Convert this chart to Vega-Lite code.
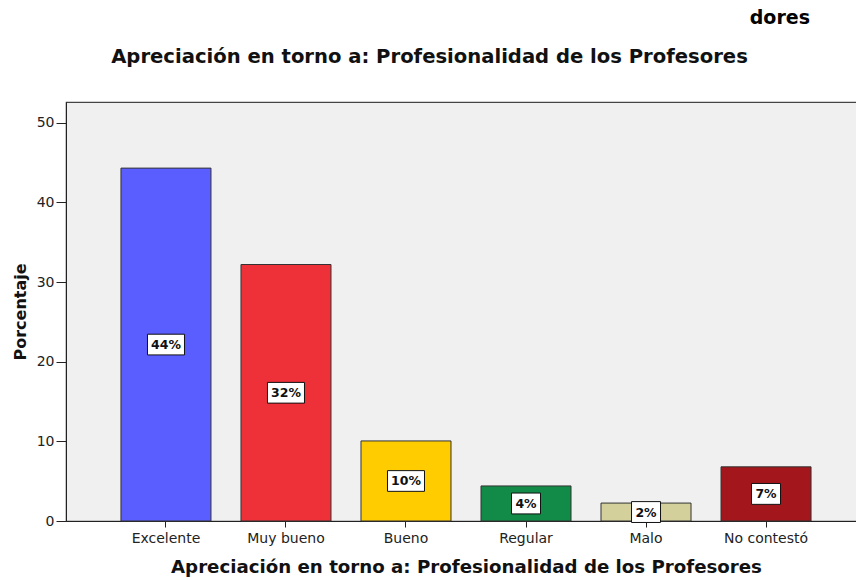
{
  "$schema": "https://vega.github.io/schema/vega-lite/v6.json",
  "width": 800,
  "height": 419,
  "autosize": {"type": "none"},
  "padding": {"left": 66, "top": 102, "right": 0, "bottom": 59},
  "background": "white",
  "title": {
    "text": "dores",
    "anchor": "end",
    "frame": "group",
    "dx": -56,
    "offset": 18,
    "font": "DejaVu Sans",
    "fontSize": 19,
    "fontWeight": "bold",
    "color": "#000000"
  },
  "config": {
    "view": {"fill": "#F0F0F0", "stroke": "#444444", "strokeWidth": 1.2},
    "axis": {
      "labelFont": "DejaVu Sans",
      "labelFontSize": 14,
      "labelColor": "#222222",
      "titleFont": "DejaVu Sans",
      "titleFontWeight": "bold",
      "titleColor": "#111111",
      "tickColor": "#222222",
      "domainColor": "#222222",
      "grid": false
    }
  },
  "data": {
    "values": [
      {"cat": "Excelente", "pct": 44.3, "label": "44%"},
      {"cat": "Muy bueno", "pct": 32.2, "label": "32%"},
      {"cat": "Bueno", "pct": 10.05, "label": "10%"},
      {"cat": "Regular", "pct": 4.4, "label": "4%"},
      {"cat": "Malo", "pct": 2.25, "label": "2%"},
      {"cat": "No contestó", "pct": 6.8, "label": "7%"}
    ]
  },
  "transform": [{"calculate": "datum.pct / 2", "as": "mid"}],
  "layer": [
    {
      "mark": {"type": "bar", "stroke": "#333333", "strokeWidth": 1},
      "encoding": {
        "x": {
          "field": "cat",
          "type": "nominal",
          "sort": null,
          "scale": {"paddingInner": 0.25, "paddingOuter": 0.458},
          "axis": {
            "labelAngle": 0,
            "tickSize": 6,
            "labelPadding": 4,
            "title": "Apreciación en torno a: Profesionalidad de los Profesores",
            "titleFontSize": 18.2,
            "titlePadding": 13
          }
        },
        "y": {
          "field": "pct",
          "type": "quantitative",
          "scale": {"domain": [0, 52.6], "nice": false},
          "axis": {
            "values": [0, 10, 20, 30, 40, 50],
            "tickSize": 10,
            "labelPadding": 2,
            "title": "Porcentaje",
            "titleFontSize": 16,
            "titlePadding": 8
          }
        },
        "fill": {
          "field": "cat",
          "type": "nominal",
          "sort": null,
          "scale": {"range": ["#5B5EFF", "#EE3038", "#FFCC00", "#138B48", "#D4D09B", "#A3161B"]},
          "legend": null
        }
      }
    },
    {
      "mark": {"type": "point", "filled": true, "fill": "white", "stroke": "#111111", "strokeWidth": 1, "opacity": 1},
      "encoding": {
        "x": {"field": "cat", "type": "nominal", "sort": null, "axis": null},
        "y": {"field": "mid", "type": "quantitative", "axis": null},
        "shape": {
          "condition": {"test": "length(datum.label) > 2", "value": "M-1,-0.56H1V0.56H-1Z"},
          "value": "M-1,-0.72H1V0.72H-1Z"
        },
        "size": {
          "condition": {"test": "length(datum.label) > 2", "value": 1369},
          "value": 841
        }
      }
    },
    {
      "mark": {"type": "text", "font": "DejaVu Sans", "fontSize": 12.5, "fontWeight": "bold", "color": "#111111", "baseline": "middle", "align": "center", "dy": 0.5},
      "encoding": {
        "x": {"field": "cat", "type": "nominal", "sort": null, "axis": null},
        "y": {"field": "mid", "type": "quantitative", "axis": null},
        "text": {"field": "label"}
      }
    },
    {
      "mark": {"type": "text", "opacity": 0},
      "encoding": {
        "x": {
          "field": "cat",
          "type": "nominal",
          "sort": null,
          "axis": {
            "orient": "top",
            "labels": false,
            "ticks": false,
            "domain": false,
            "title": "Apreciación en torno a: Profesionalidad de los Profesores",
            "titleFont": "DejaVu Sans",
            "titleFontSize": 19.6,
            "titleAlign": "center",
            "titleBaseline": "alphabetic",
            "titleX": 363,
            "titleY": -40,
            "titleColor": "#111111"
          }
        },
        "y": {"field": "mid", "type": "quantitative", "axis": null},
        "text": {"field": "label"}
      }
    }
  ],
  "resolve": {"axis": {"x": "independent", "y": "independent"}}
}
